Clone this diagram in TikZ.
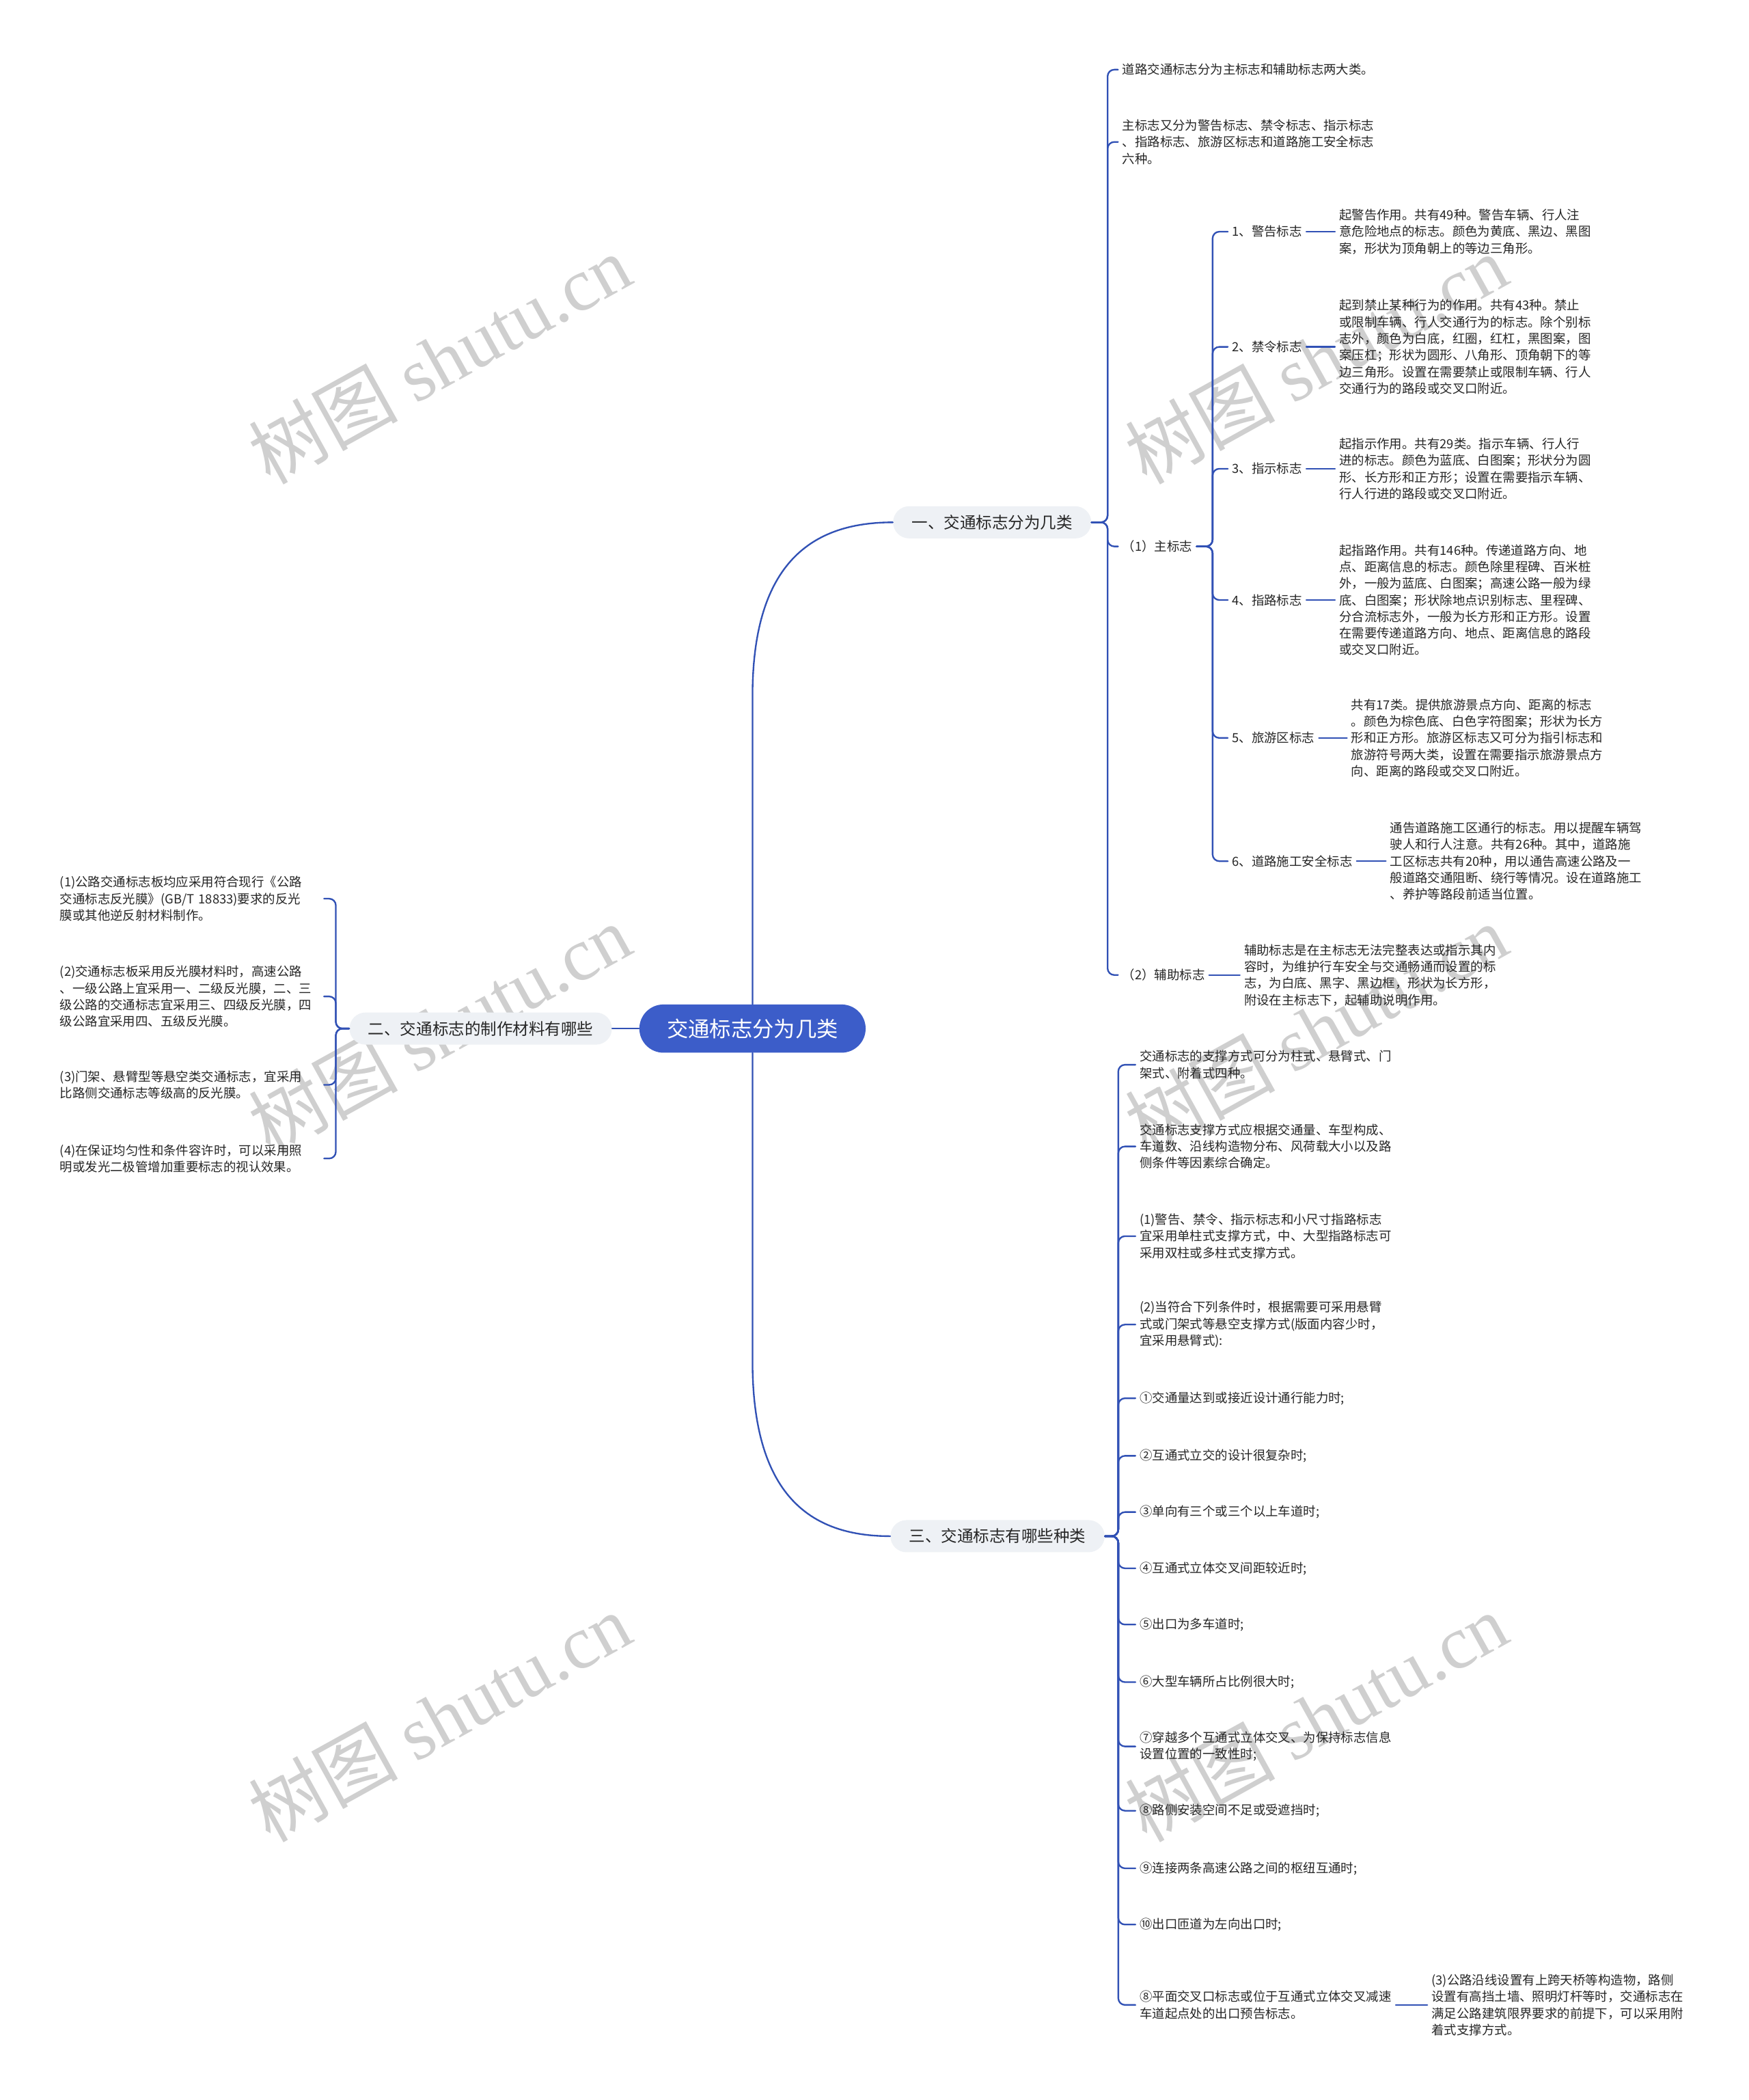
\documentclass[tikz,border=0pt]{standalone}
\usepackage{fontspec}
\setmainfont{Noto Sans CJK SC}
\newfontfamily\wmlatin{Liberation Serif}

\definecolor{linkblue}{HTML}{3151B5}
\definecolor{rootblue}{HTML}{3C5DC9}
\definecolor{branchgray}{HTML}{EEF1F5}
\definecolor{txt}{HTML}{262626}
\definecolor{wmgray}{HTML}{CFCFCF}

\begin{document}
\begin{tikzpicture}[x=1pt,y=-1pt,line cap=round,
    root/.style={rounded corners=18pt, fill=rootblue, text=white,
        font=\fontsize{16}{19}\selectfont, minimum width=169pt, minimum height=36pt},
    branch/.style={rounded corners=12pt, fill=branchgray, text=txt,
        font=\fontsize{12}{14}\selectfont, minimum height=24pt, inner xsep=14pt},
    leaf/.style={anchor=west, align=left, text=txt, inner sep=3pt,
        font=\fontsize{9.4}{12.4}\selectfont},
    leftleaf/.style={leaf, anchor=east, text width=194pt},
    link/.style={draw=linkblue, line width=1.2pt},
    hook/.style={link, rounded corners=5pt},
    watermark/.style={rotate=29, text=wmgray, font=\fontsize{56}{60}\selectfont}]

    % fix the page
    \useasboundingbox (0,0) rectangle (1306,1568);
    \fill[white] (0,0) rectangle (1306,1568);

    % draw the watermarks
    \foreach \x/\y [count=\i] in {328/268, 983/268, 328/768, 983/768, 328/1282, 983/1282}
        \node[watermark] (wm\i) at (\x,\y) {树图 {\wmlatin shutu.cn}};

    % draw the root and the three branches
    \node[root] (root) at (562,768) {交通标志分为几类};
    \node[branch] (b1) at (741,390) {一、交通标志分为几类};
    \node[branch] (b2) at (359,768) {二、交通标志的制作材料有哪些};
    \node[branch] (b3) at (745,1147) {三、交通标志有哪些种类};

    \draw[link] (root.north) -- ++(0,-230) .. controls +(0,-100) and +(-60,0) .. (b1.west);
    \draw[link] (root.south) -- ++(0,230) .. controls +(0,100) and +(-60,0) .. (b3.west);
    \draw[link] (root.west) -- (b2.east);

    % first branch
    \node[leaf] (c1) at (835,52) {道路交通标志分为主标志和辅助标志两大类。};
    \node[leaf] (c2) at (835,106) {主标志又分为警告标志、禁令标志、指示标志\\、指路标志、旅游区标志和道路施工安全标志\\六种。};
    \node[leaf] (c3) at (835,408) {（1）主标志};
    \node[leaf] (c4) at (835,728) {（2）辅助标志};
    \foreach \n in {c1,c2,c3,c4}
        \draw[hook] (b1.east) -- ++(12,0) |- (\n.west);

    % the six kinds of main signs
    \node[leaf] (s1) at (917,173) {1、警告标志};
    \node[leaf] (s2) at (917,259) {2、禁令标志};
    \node[leaf] (s3) at (917,350) {3、指示标志};
    \node[leaf] (s4) at (917,448) {4、指路标志};
    \node[leaf] (s5) at (917,551) {5、旅游区标志};
    \node[leaf] (s6) at (917,643) {6、道路施工安全标志};
    \foreach \n in {s1,s2,s3,s4,s5,s6}
        \draw[hook] (c3.east) -- ++(12,0) |- (\n.west);

    \node[leaf] (t1) at (997,173) {起警告作用。共有49种。警告车辆、行人注\\意危险地点的标志。颜色为黄底、黑边、黑图\\案，形状为顶角朝上的等边三角形。};
    \node[leaf] (t2) at (997,259) {起到禁止某种行为的作用。共有43种。禁止\\或限制车辆、行人交通行为的标志。除个别标\\志外，颜色为白底，红圈，红杠，黑图案，图\\案压杠；形状为圆形、八角形、顶角朝下的等\\边三角形。设置在需要禁止或限制车辆、行人\\交通行为的路段或交叉口附近。};
    \node[leaf] (t3) at (997,350) {起指示作用。共有29类。指示车辆、行人行\\进的标志。颜色为蓝底、白图案；形状分为圆\\形、长方形和正方形；设置在需要指示车辆、\\行人行进的路段或交叉口附近。};
    \node[leaf] (t4) at (997,448) {起指路作用。共有146种。传递道路方向、地\\点、距离信息的标志。颜色除里程碑、百米桩\\外，一般为蓝底、白图案；高速公路一般为绿\\底、白图案；形状除地点识别标志、里程碑、\\分合流标志外，一般为长方形和正方形。设置\\在需要传递道路方向、地点、距离信息的路段\\或交叉口附近。};
    \node[leaf] (t5) at (1006,551) {共有17类。提供旅游景点方向、距离的标志\\。颜色为棕色底、白色字符图案；形状为长方\\形和正方形。旅游区标志又可分为指引标志和\\旅游符号两大类，设置在需要指示旅游景点方\\向、距离的路段或交叉口附近。};
    \node[leaf] (t6) at (1035,643) {通告道路施工区通行的标志。用以提醒车辆驾\\驶人和行人注意。共有26种。其中，道路施\\工区标志共有20种，用以通告高速公路及一\\般道路交通阻断、绕行等情况。设在道路施工\\、养护等路段前适当位置。};
    \node[leaf] (u) at (926,728) {辅助标志是在主标志无法完整表达或指示其内\\容时，为维护行车安全与交通畅通而设置的标\\志，为白底、黑字、黑边框，形状为长方形，\\附设在主标志下，起辅助说明作用。};
    \foreach \a/\b in {s1/t1,s2/t2,s3/t3,s4/t4,s5/t5,s6/t6,c4/u}
        \draw[link] (\a.east) -- (\b.west);

    % second branch, on the left
    \node[leftleaf] (e1) at (242,671) {(1)公路交通标志板均应采用符合现行《公路\\交通标志反光膜》(GB/T 18833)要求的反光\\膜或其他逆反射材料制作。};
    \node[leftleaf] (e2) at (242,744) {(2)交通标志板采用反光膜材料时，高速公路\\、一级公路上宜采用一、二级反光膜，二、三\\级公路的交通标志宜采用三、四级反光膜，四\\级公路宜采用四、五级反光膜。};
    \node[leftleaf] (e3) at (242,810) {(3)门架、悬臂型等悬空类交通标志，宜采用\\比路侧交通标志等级高的反光膜。};
    \node[leftleaf] (e4) at (242,865) {(4)在保证均匀性和条件容许时，可以采用照\\明或发光二极管增加重要标志的视认效果。};
    \foreach \n in {e1,e2,e3,e4}
        \draw[hook] (b2.west) -- ++(-10,0) |- (\n.east);

    % third branch
    \node[leaf] (d1) at (848,795) {交通标志的支撑方式可分为柱式、悬臂式、门\\架式、附着式四种。};
    \node[leaf] (d2) at (848,856) {交通标志支撑方式应根据交通量、车型构成、\\车道数、沿线构造物分布、风荷载大小以及路\\侧条件等因素综合确定。};
    \node[leaf] (d3) at (848,923) {(1)警告、禁令、指示标志和小尺寸指路标志\\宜采用单柱式支撑方式，中、大型指路标志可\\采用双柱或多柱式支撑方式。};
    \node[leaf] (d4) at (848,989) {(2)当符合下列条件时，根据需要可采用悬臂\\式或门架式等悬空支撑方式(版面内容少时，\\宜采用悬臂式):};
    \node[leaf] (d5) at (848,1044) {①交通量达到或接近设计通行能力时;};
    \node[leaf] (d6) at (848,1087) {②互通式立交的设计很复杂时;};
    \node[leaf] (d7) at (848,1129) {③单向有三个或三个以上车道时;};
    \node[leaf] (d8) at (848,1171) {④互通式立体交叉间距较近时;};
    \node[leaf] (d9) at (848,1213) {⑤出口为多车道时;};
    \node[leaf] (d10) at (848,1256) {⑥大型车辆所占比例很大时;};
    \node[leaf] (d11) at (848,1304) {⑦穿越多个互通式立体交叉、为保持标志信息\\设置位置的一致性时;};
    \node[leaf] (d12) at (848,1352) {⑧路侧安装空间不足或受遮挡时;};
    \node[leaf] (d13) at (848,1395) {⑨连接两条高速公路之间的枢纽互通时;};
    \node[leaf] (d14) at (848,1437) {⑩出口匝道为左向出口时;};
    \node[leaf] (d15) at (848,1497) {⑧平面交叉口标志或位于互通式立体交叉减速\\车道起点处的出口预告标志。};
    \foreach \n in {d1,d2,d3,d4,d5,d6,d7,d8,d9,d10,d11,d12,d13,d14,d15}
        \draw[hook] (b3.east) -- ++(10,0) |- (\n.west);

    \node[leaf] (d16) at (1066,1497) {(3)公路沿线设置有上跨天桥等构造物，路侧\\设置有高挡土墙、照明灯杆等时，交通标志在\\满足公路建筑限界要求的前提下，可以采用附\\着式支撑方式。};
    \draw[link] (d15.east) -- (d16.west);

\end{tikzpicture}
\end{document}
